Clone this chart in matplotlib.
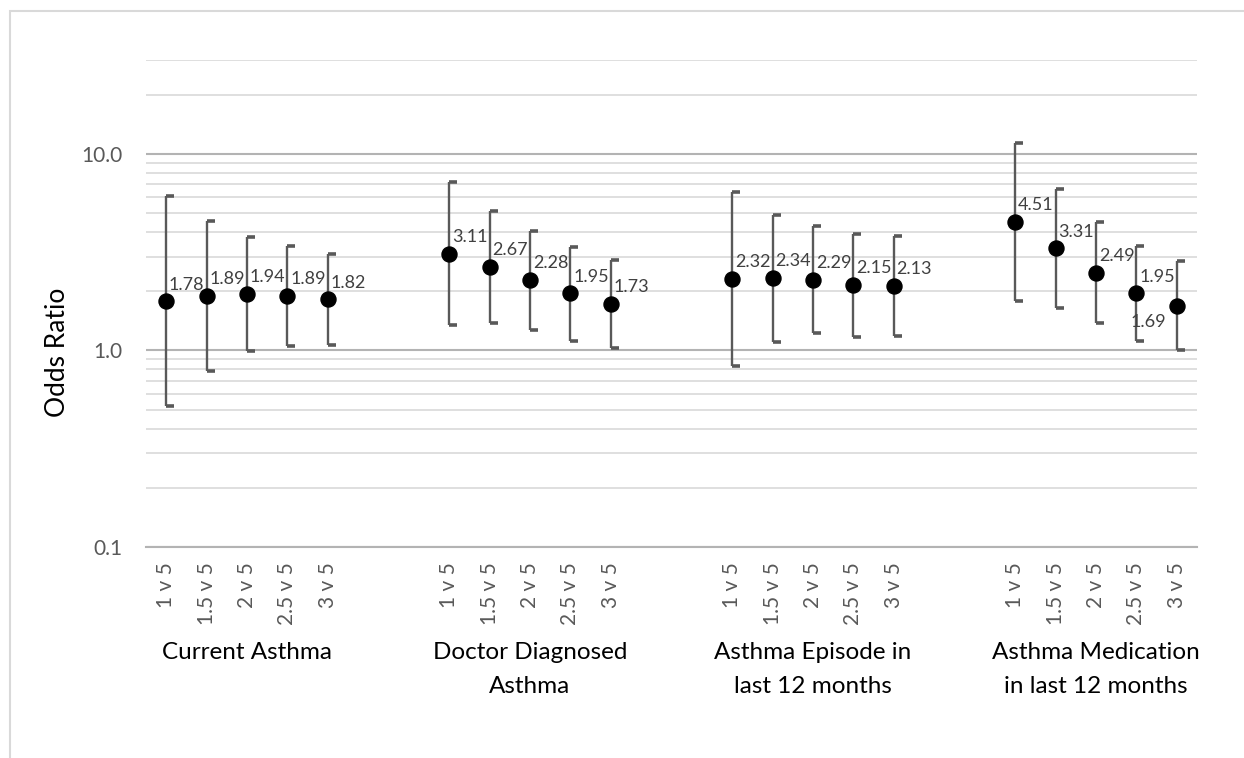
import matplotlib
matplotlib.use("Agg")
import matplotlib.pyplot as plt
from matplotlib.path import Path
from matplotlib.patches import Rectangle
from matplotlib.ticker import LogLocator, NullFormatter, FixedLocator
import matplotlib.transforms as mtransforms

plt.rcParams['font.family'] = ['Lato', 'DejaVu Sans']

groups = ["Current Asthma", "Doctor Diagnosed\nAsthma", "Asthma Episode in\nlast 12 months",
          "Asthma Medication\nin last 12 months"]
comparisons = ["1 v 5", "1.5 v 5", "2 v 5", "2.5 v 5", "3 v 5"]

odds = [
    [1.78, 1.89, 1.94, 1.89, 1.82],
    [3.11, 2.67, 2.28, 1.95, 1.73],
    [2.32, 2.34, 2.29, 2.15, 2.13],
    [4.51, 3.31, 2.49, 1.95, 1.69],
]
upper = [
    [6.08, 4.55, 3.77, 3.38, 3.10],
    [7.19, 5.11, 4.03, 3.36, 2.87],
    [6.39, 4.90, 4.28, 3.92, 3.82],
    [11.35, 6.59, 4.50, 3.38, 2.84],
]
lower = [
    [0.52, 0.785, 0.99, 1.05, 1.06],
    [1.34, 1.38, 1.27, 1.12, 1.03],
    [0.83, 1.10, 1.22, 1.17, 1.18],
    [1.78, 1.65, 1.38, 1.12, 1.00],
]

W, H = 1244, 758
fig = plt.figure(figsize=(W / 100, H / 100), dpi=100)
ax = fig.add_axes([146 / W, 1 - 547 / H, (1197 - 146) / W, (547 - 60) / H])

slots_per_group = 7
xs, ys, los, his, labels = [], [], [], [], []
for g in range(len(groups)):
    for i in range(len(comparisons)):
        xs.append(g * slots_per_group + i)
        ys.append(odds[g][i])
        los.append(lower[g][i])
        his.append(upper[g][i])
        labels.append(comparisons[i])

bar_color = "#595959"
ax.vlines(xs, los, his, color=bar_color, lw=1.7, zorder=3)
half_cap = Path([[0, 0], [1, 0]], [Path.MOVETO, Path.LINETO])
ax.plot(xs, his, ls="none", marker=half_cap, markersize=11, mew=2.6, mec=bar_color, zorder=3)
ax.plot(xs, los, ls="none", marker=half_cap, markersize=11, mew=2.6, mec=bar_color, zorder=3)
ax.plot(xs, ys, ls="none", marker="o", markersize=10.8, color="black", zorder=4)

for k, (x, y) in enumerate(zip(xs, ys)):
    if k == len(xs) - 1:
        ax.annotate(f"{y:.2f}", (x, y), xytext=(-8, -12), textcoords="offset points",
                    ha="right", va="center", fontsize=13, color="#404040", zorder=5)
    else:
        ax.annotate(f"{y:.2f}", (x, y), xytext=(2, 12), textcoords="offset points",
                    ha="left", va="center", fontsize=13, color="#404040", zorder=5)

ax.set_yscale("log")
ax.set_ylim(0.1, 30)
ax.set_xlim(-0.5, 25.5)

ax.yaxis.set_major_locator(FixedLocator([0.1, 1, 10]))
ax.set_yticklabels(["0.1", "1.0", "10.0"])
ax.yaxis.set_minor_locator(LogLocator(base=10, subs=range(2, 10)))
ax.yaxis.set_minor_formatter(NullFormatter())
ax.grid(True, which="major", axis="y", color="#b3b3b3", lw=1.5, zorder=0)
ax.grid(True, which="minor", axis="y", color="#d9d9d9", lw=1.2, zorder=0)
ax.tick_params(axis="y", which="both", length=0, pad=17, labelsize=15, labelcolor="#595959")

ax.set_xticks(xs)
ax.set_xticklabels(labels, rotation=90, va="top", ha="center")
ax.tick_params(axis="x", length=0, pad=11, labelsize=15, labelcolor="#595959")

for s in ["top", "right", "left"]:
    ax.spines[s].set_visible(False)
ax.spines["bottom"].set_color("#b3b3b3")
ax.spines["bottom"].set_linewidth(1.5)

ax.set_ylabel("Odds Ratio", fontsize=19, color="black")
ax.yaxis.set_label_coords((70 - 146) / 1051, (547 - 352) / 487)

trans = mtransforms.blended_transform_factory(ax.transData, ax.transAxes)
for g, name in enumerate(groups):
    ax.text(g * slots_per_group + 2, (547 - 642) / 487, name, transform=trans,
            ha="center", va="top", fontsize=17.5, color="black", linespacing=1.78)

fig.patches.append(Rectangle((10 / W, -0.1), 2, (H - 11) / H + 0.1, transform=fig.transFigure,
                             fill=False, ec="#d9d9d9", lw=1.5))

fig.savefig("out.png", dpi=100)
